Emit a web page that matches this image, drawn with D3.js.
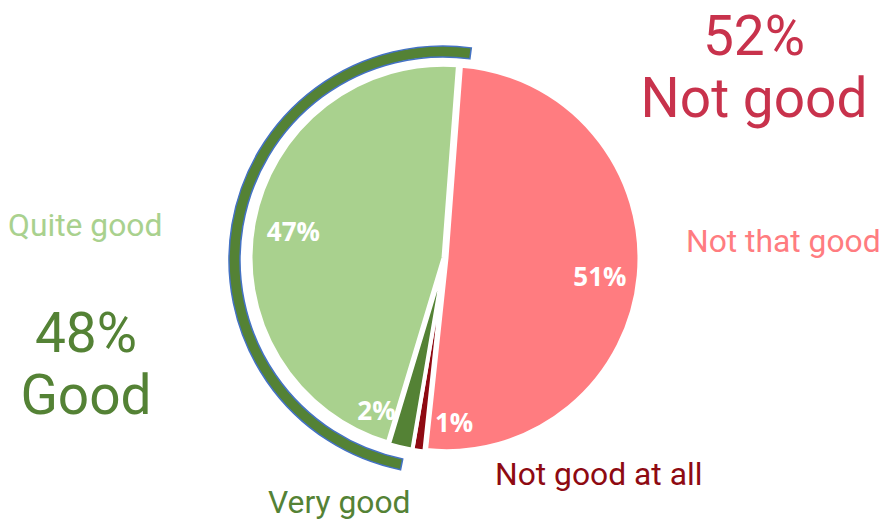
<!DOCTYPE html>
<html>
<head>
<meta charset="utf-8">
<script src="https://cdn.jsdelivr.net/npm/d3@7/dist/d3.min.js"></script>
<style>
  html, body { margin: 0; padding: 0; background: #ffffff; }
  svg { display: block; }
</style>
</head>
<body>
<svg id="chart" width="886" height="526"></svg>
<script>
// Survey answers, clockwise from the top
const categories = ["Not that good", "Not good at all", "Very good", "Quite good"];
const values = [51, 1, 2, 47];
const categoryGroup = ["Not good", "Not good", "Good", "Good"];

// Grouped totals shown as headlines
const groupNames = ["Not good", "Good"];
const groupTotals = [52, 48];

// Styling
const sliceColors = {
  "Not that good": "#FF7C80",
  "Not good at all": "#8E0A12",
  "Very good": "#548235",
  "Quite good": "#A9D18E"
};
const groupColors = { "Not good": "#C8324C", "Good": "#548235" };

const W = 886, H = 526;
const cx = 445, cy = 258, R = 193;
const deg = Math.PI / 180;
const startAngle = 4.3 * deg;
const explode = 1.5;

const svg = d3.select("#chart");

const pie = d3.pie().sort(null).value(d => d.value)
  .startAngle(startAngle).endAngle(startAngle + 2 * Math.PI);
const rows = categories.map((c, i) => ({ name: c, value: values[i], group: categoryGroup[i] }));
const arcs = pie(rows);

const arc = d3.arc().innerRadius(0).outerRadius(R);

// Pie slices, each nudged out a little along its bisector
const gPie = svg.append("g").attr("transform", `translate(${cx},${cy})`);
gPie.selectAll("path.slice")
  .data(arcs)
  .join("path")
  .attr("class", "slice")
  .attr("d", arc)
  .attr("transform", d => {
    const m = (d.startAngle + d.endAngle) / 2;
    return `translate(${explode * Math.sin(m)},${-explode * Math.cos(m)})`;
  })
  .attr("fill", d => sliceColors[d.data.name])
  .attr("stroke", "#ffffff")
  .attr("stroke-width", 4)
  .attr("stroke-linejoin", "miter");

// Outer band around the "Good" answers
const goodArcs = arcs.filter(d => d.data.group === "Good");
const bandStart = d3.min(goodArcs, d => d.startAngle);
const bandEnd = d3.max(goodArcs, d => d.endAngle);
const bandShift = 3.3 * deg;
const band = d3.arc().innerRadius(203).outerRadius(214);
svg.append("path")
  .attr("transform", `translate(${cx - 2},${cy + 2})`)
  .attr("d", band({ startAngle: bandStart + bandShift - 1.5 * deg, endAngle: bandEnd + bandShift }))
  .attr("fill", groupColors["Good"])
  .attr("stroke", "#4472C4")
  .attr("stroke-width", 1.5);

// Percent labels inside the pie
const labelNudge = { "Not that good": 1.5, "Not good at all": -11, "Very good": 11, "Quite good": -0.5 };
const labelRadius = { "Not that good": 156, "Not good at all": 165, "Very good": 167, "Quite good": 154 };
gPie.selectAll("text.pct")
  .data(arcs)
  .join("text")
  .attr("class", "pct")
  .attr("transform", d => {
    const m = (d.startAngle + d.endAngle) / 2 + labelNudge[d.data.name] * deg;
    const r = labelRadius[d.data.name];
    return `translate(${r * Math.sin(m)},${-r * Math.cos(m)})`;
  })
  .attr("text-anchor", "middle")
  .attr("dy", "0.36em")
  .attr("font-family", "'Open Sans', sans-serif")
  .attr("font-weight", 700)
  .attr("font-size", 26)
  .attr("fill", "#ffffff")
  .text(d => d.data.value + "%");

// Category names
const namePos = {
  "Not that good": [686, 252],
  "Not good at all": [495, 485],
  "Very good": [268, 513],
  "Quite good": [8, 236]
};
svg.selectAll("text.cat")
  .data(categories)
  .join("text")
  .attr("class", "cat")
  .attr("x", d => namePos[d][0])
  .attr("y", d => namePos[d][1])
  .attr("font-family", "Roboto, sans-serif")
  .attr("font-size", 31.8)
  .attr("fill", d => sliceColors[d])
  .text(d => d);

// Group headlines
const headPos = { "Not good": [754, 55], "Good": [86, 352] };
groupNames.forEach((g, i) => {
  const t = svg.append("text")
    .attr("text-anchor", "middle")
    .attr("font-family", "Roboto, sans-serif")
    .attr("font-size", 55)
    .attr("fill", groupColors[g]);
  t.append("tspan").attr("x", headPos[g][0]).attr("y", headPos[g][1]).text(groupTotals[i] + "%");
  t.append("tspan").attr("x", headPos[g][0]).attr("dy", 62).text(g);
});
</script>
</body>
</html>
